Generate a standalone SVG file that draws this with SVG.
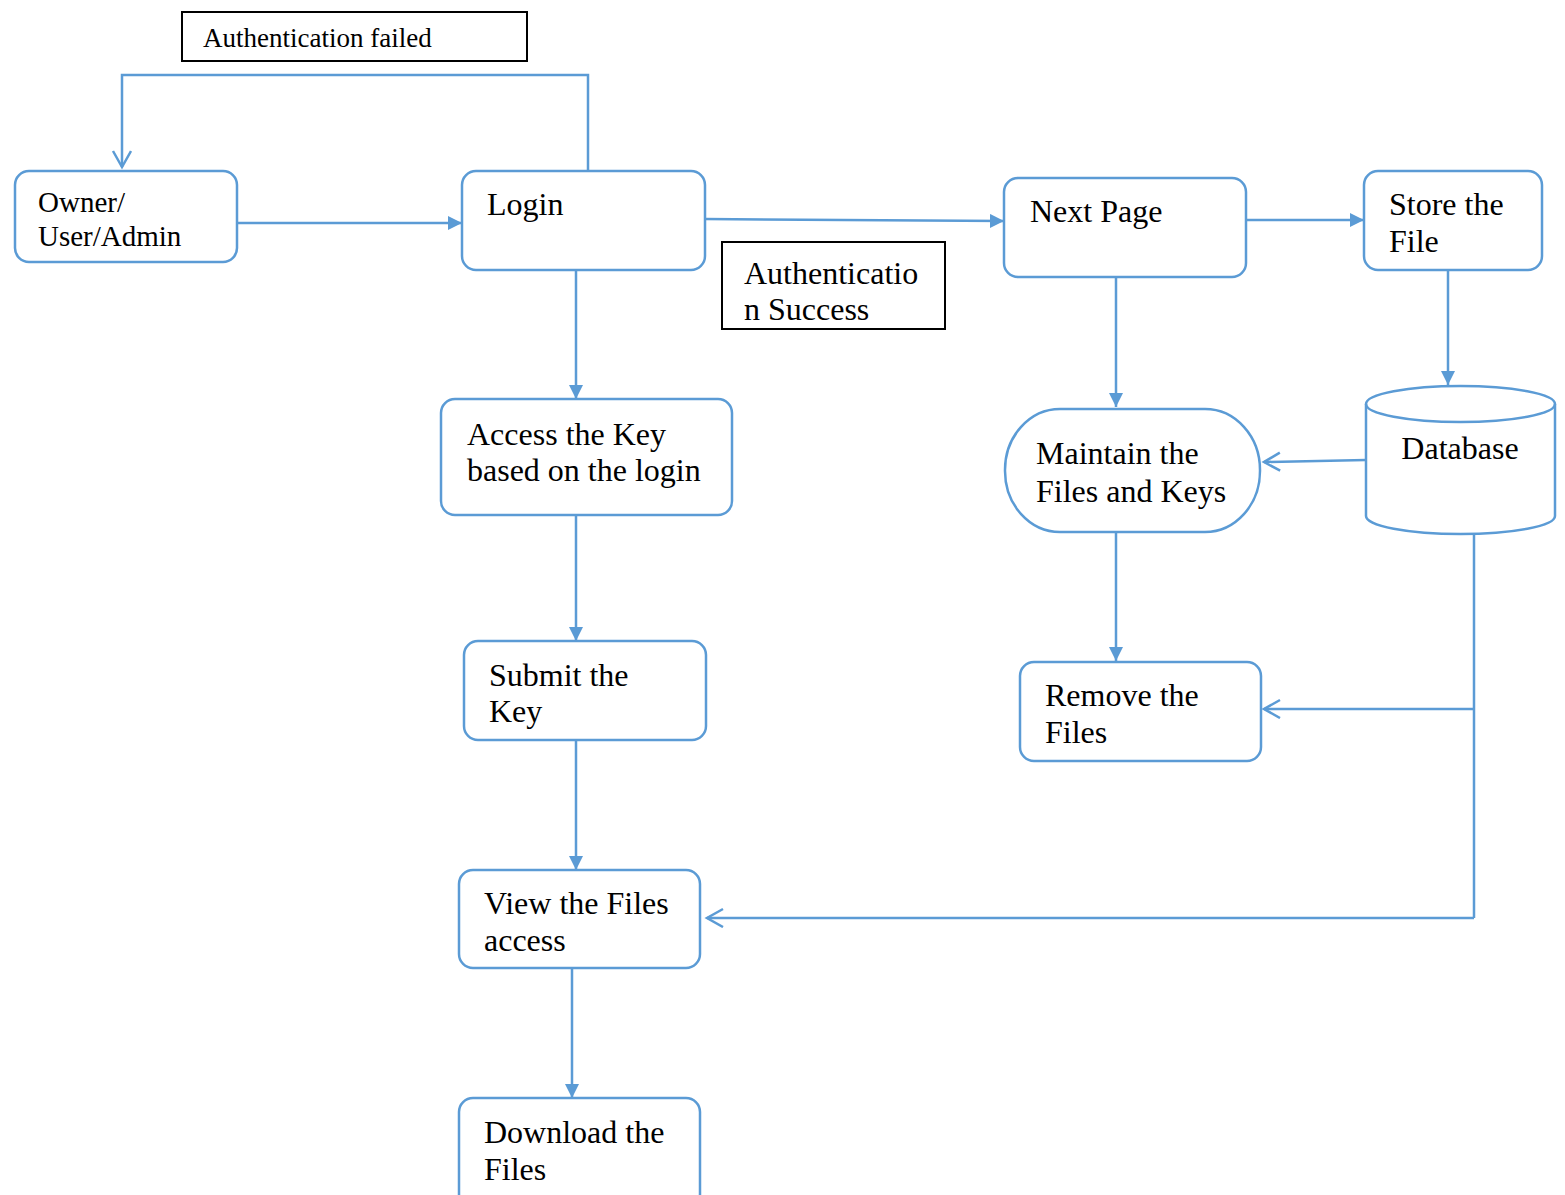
<svg xmlns="http://www.w3.org/2000/svg" width="1565" height="1195" viewBox="0 0 1565 1195">
<style>
.n{fill:#fff;stroke:#5B9BD5;stroke-width:2.5}
.lb{fill:#fff;stroke:#000;stroke-width:2}
.t{font-family:"Liberation Serif","Times New Roman",serif;font-size:32px;fill:#000}
.c{fill:none;stroke:#5B9BD5;stroke-width:2.5}
.f{marker-end:url(#fa)}
.o{marker-end:url(#oa)}
</style>
<defs>
<marker id="fa" markerUnits="userSpaceOnUse" markerWidth="16" markerHeight="16" refX="14" refY="7" orient="auto" viewBox="0 0 16 16">
<path d="M0,0 L14,7 L0,14 z" fill="#5B9BD5"/>
</marker>
<marker id="oa" markerUnits="userSpaceOnUse" markerWidth="20" markerHeight="22" refX="17" refY="10" orient="auto" viewBox="0 0 20 22">
<path d="M1,1 L17,10 L1,19" fill="none" stroke="#5B9BD5" stroke-width="2.5"/>
</marker>
</defs>
<g id="connectors">
<polyline class="c o" points="588,171 588,75 122,75 122,167"/>
<line class="c f" x1="237" y1="223" x2="462" y2="223"/>
<line class="c f" x1="705" y1="219" x2="1004" y2="221"/>
<line class="c f" x1="1246" y1="220" x2="1364" y2="220"/>
<line class="c f" x1="1448" y1="270" x2="1448" y2="385"/>
<line class="c o" x1="1366" y1="460" x2="1264" y2="462"/>
<line class="c f" x1="1116" y1="277" x2="1116" y2="407"/>
<line class="c f" x1="1116" y1="532" x2="1116" y2="661"/>
<polyline class="c" points="1474,533 1474,918"/>
<line class="c o" x1="1474" y1="709" x2="1264" y2="709"/>
<line class="c o" x1="1474" y1="918" x2="707" y2="918"/>
<line class="c f" x1="576" y1="270" x2="576" y2="399"/>
<line class="c f" x1="576" y1="515" x2="576" y2="641"/>
<line class="c f" x1="576" y1="740" x2="576" y2="870"/>
<line class="c f" x1="572" y1="968" x2="572" y2="1098"/>
</g>
<g id="auth-failed">
<rect class="lb" x="182" y="12" width="345" height="49"/>
<text class="t" x="203" y="47" style="font-size:27px">Authentication failed</text>
</g>
<g id="owner">
<rect class="n" x="15" y="171" width="222" height="91" rx="14"/>
<text class="t" x="38" y="212" style="font-size:29px">Owner/</text>
<text class="t" x="38" y="246" style="font-size:29px">User/Admin</text>
</g>
<g id="login">
<rect class="n" x="462" y="171" width="243" height="99" rx="14"/>
<text class="t" x="487" y="215">Login</text>
</g>
<g id="auth-success">
<rect class="lb" x="722" y="242" width="223" height="87"/>
<text class="t" x="744" y="284">Authenticatio</text>
<text class="t" x="744" y="320">n Success</text>
</g>
<g id="next-page">
<rect class="n" x="1004" y="178" width="242" height="99" rx="14"/>
<text class="t" x="1030" y="222">Next Page</text>
</g>
<g id="store-file">
<rect class="n" x="1364" y="171" width="178" height="99" rx="14"/>
<text class="t" x="1389" y="215">Store the</text>
<text class="t" x="1389" y="252">File</text>
</g>
<g id="database">
<path class="n" d="M1366,404 L1366,516 A94.5,18 0 0 0 1555,516 L1555,404 A94.5,18 0 0 0 1366,404 Z"/>
<path class="c" d="M1366,404 A94.5,18 0 0 0 1555,404"/>
<text class="t" x="1460" y="459" text-anchor="middle">Database</text>
</g>
<g id="maintain">
<rect class="n" x="1005" y="409" width="255" height="123" rx="55" ry="61"/>
<text class="t" x="1036" y="464">Maintain the</text>
<text class="t" x="1036" y="502">Files and Keys</text>
</g>
<g id="remove">
<rect class="n" x="1020" y="662" width="241" height="99" rx="14"/>
<text class="t" x="1045" y="706">Remove the</text>
<text class="t" x="1045" y="743">Files</text>
</g>
<g id="access-key">
<rect class="n" x="441" y="399" width="291" height="116" rx="14"/>
<text class="t" x="467" y="445">Access the Key</text>
<text class="t" x="467" y="481">based on the login</text>
</g>
<g id="submit-key">
<rect class="n" x="464" y="641" width="242" height="99" rx="14"/>
<text class="t" x="489" y="686">Submit the</text>
<text class="t" x="489" y="722">Key</text>
</g>
<g id="view-files">
<rect class="n" x="459" y="870" width="241" height="98" rx="14"/>
<text class="t" x="484" y="914">View the Files</text>
<text class="t" x="484" y="951">access</text>
</g>
<g id="download">
<rect class="n" x="459" y="1098" width="241" height="110" rx="14"/>
<text class="t" x="484" y="1143">Download the</text>
<text class="t" x="484" y="1180">Files</text>
</g>
</svg>
